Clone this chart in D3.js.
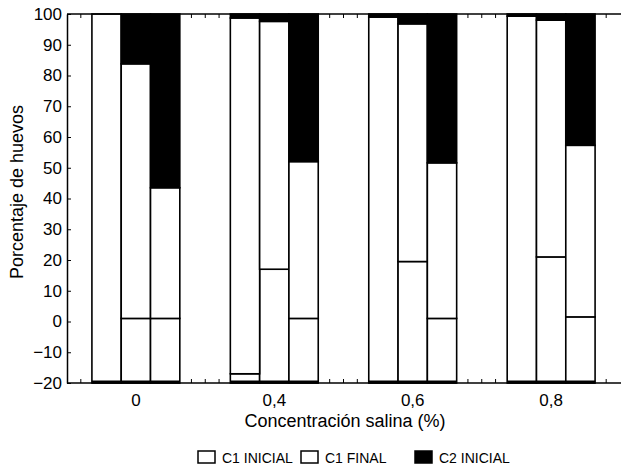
<!DOCTYPE html>
<html>
<head>
<meta charset="utf-8">
<script src="https://cdn.jsdelivr.net/npm/d3@7"></script>
<style>
  body { margin: 0; background: #fff; }
  text { font-family: "Liberation Sans", Arial, sans-serif; fill: #000; }
</style>
</head>
<body>
<div id="chart"></div>
<script>
"use strict";

// categories (salt concentration) and the 3 bars in each group
const categories = ["0", "0,4", "0,6", "0,8"];
const barsPerGroup = [0, 1, 2];

// segment heights (percentage points stacked up from the -20 floor), one row per group
const c1Inicial = [[120, 21, 21], [3, 37, 21], [119, 39.5, 21], [119.3, 41, 21.5]];
const c1Final   = [[0, 82.8, 42.5], [115.7, 80.6, 51], [0, 77.3, 50.6], [0, 77, 55.8]];
const c2Inicial = [[0, 16.2, 56.5], [1.3, 2.4, 48], [1, 3.2, 48.4], [0.7, 2, 42.7]];

const yTicks = [-20, -10, 0, 10, 20, 30, 40, 50, 60, 70, 80, 90, 100];

const series = [
    {key: "c1i", name: "C1 INICIAL", fill: "#fff"},
    {key: "c1f", name: "C1 FINAL", fill: "#fff"},
    {key: "c2i", name: "C2 INICIAL", fill: "#000"}
];


const width = 621;
const height = 471;
const margin = ({top: 14, right: 1, bottom: 88, left: 67});
const base = -20;

const svg = d3.select("#chart").append("svg")
    .attr("width", width)
    .attr("height", height);

const x = d3.scaleBand()
    .domain(categories)
    .range([margin.left, width - margin.right])
    .paddingInner(0.365)
    .paddingOuter(0.18);

const xb = d3.scaleBand()
    .domain(barsPerGroup)
    .range([0, x.bandwidth()]);

const y = d3.scaleLinear()
    .domain([base, 100])
    .range([height - margin.bottom, margin.top]);

// minor ticks along the x frame (tenths of a group step)
const xm = d3.scaleLinear()
    .domain([0, 40])
    .range([margin.left, width - margin.right]);

const minor = svg.append("g")
    .attr("stroke", "#000")
    .attr("stroke-width", 1);

minor.selectAll("line.b")
    .data(d3.range(1, 40))
    .join("line")
        .attr("class", "b")
        .attr("x1", d => xm(d)).attr("x2", d => xm(d))
        .attr("y1", y(base)).attr("y2", y(base) - 4);

minor.selectAll("line.t")
    .data(d3.range(1, 40))
    .join("line")
        .attr("class", "t")
        .attr("x1", d => xm(d)).attr("x2", d => xm(d))
        .attr("y1", y(100)).attr("y2", y(100) + 4);


// rows for the stack
const rows = [];
categories.forEach((c, i) => {
    barsPerGroup.forEach(j => {
        rows.push({cat: c, bar: j, c1i: c1Inicial[i][j], c1f: c1Final[i][j], c2i: c2Inicial[i][j]});
    });
});

const stacked = d3.stack().keys(series.map(s => s.key))(rows);

const layer = svg.append("g")
    .selectAll("g")
    .data(stacked)
    .join("g")
        .attr("fill", (d, i) => series[i].fill)
        .attr("stroke", "#000")
        .attr("stroke-width", 1.6);

layer.selectAll("rect")
    .data(d => d.filter(s => s[1] - s[0] > 0))
    .join("rect")
        .attr("x", d => x(d.data.cat) + xb(d.data.bar))
        .attr("width", xb.bandwidth())
        .attr("y", d => y(d[1] + base))
        .attr("height", d => y(d[0] + base) - y(d[1] + base));

// heavy bar bottoms
svg.append("g")
    .attr("stroke", "#000")
    .attr("stroke-width", 3)
  .selectAll("line")
  .data(rows)
  .join("line")
    .attr("x1", d => x(d.cat) + xb(d.bar))
    .attr("x2", d => x(d.cat) + xb(d.bar) + xb.bandwidth())
    .attr("y1", y(base) - 1)
    .attr("y2", y(base) - 1);


// frame
svg.append("line")
    .attr("x1", margin.left).attr("x2", width)
    .attr("y1", y(100)).attr("y2", y(100))
    .attr("stroke", "#000").attr("stroke-width", 1.5);

svg.append("g")
    .attr("transform", `translate(0,${y(base)})`)
    .call(d3.axisBottom(x).tickSize(0).tickPadding(11))
    .call(g => g.select(".domain").attr("stroke-width", 1.5).attr("d", `M${margin.left},0H${width}`))
    .call(g => g.selectAll("text").attr("font-size", 17).attr("font-family", null));

svg.append("g")
    .attr("transform", `translate(${margin.left},0)`)
    .call(d3.axisLeft(y).tickValues(yTicks).tickSizeInner(-4).tickSizeOuter(0).tickPadding(5))
    .call(g => g.select(".domain").attr("stroke-width", 1.5))
    .call(g => g.selectAll("text").attr("font-size", 17).attr("font-family", null));


// axis titles
svg.append("text")
    .attr("x", 345)
    .attr("y", 427)
    .attr("text-anchor", "middle")
    .attr("font-size", 18)
    .text("Concentración salina (%)");

svg.append("text")
    .attr("transform", "translate(23,192) rotate(-90)")
    .attr("text-anchor", "middle")
    .attr("font-size", 18)
    .text("Porcentaje de huevos");


// legend
const legendX = [198, 301, 415];

const legend = svg.append("g")
  .selectAll("g")
  .data(series)
  .join("g")
    .attr("transform", (d, i) => `translate(${legendX[i]},451)`);

legend.append("rect")
    .attr("width", 17)
    .attr("height", 12)
    .attr("fill", d => d.fill)
    .attr("stroke", "#000")
    .attr("stroke-width", 1.5);

legend.append("text")
    .attr("x", 24)
    .attr("y", 12)
    .attr("font-size", 14)
    .text(d => d.name);

</script>
</body>
</html>
